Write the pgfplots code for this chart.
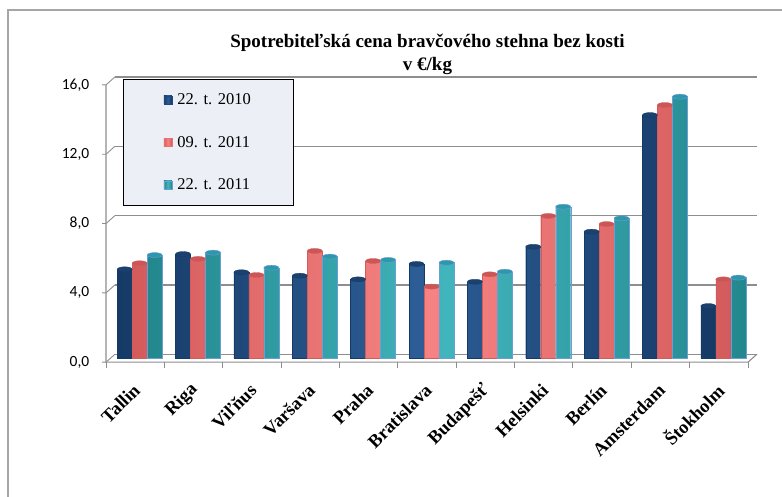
\documentclass[border=0pt]{standalone}
\usepackage{fontspec}
\setmainfont{Liberation Serif}
\newfontfamily\calibri{Carlito}
\usepackage{pgfplots}
\usepackage{pgfplotstable}
\pgfplotsset{compat=1.18}
\usetikzlibrary{shapes.geometric}
\definecolor{navyD}{HTML}{163A66}
\definecolor{navyL}{HTML}{2C5D96}
\definecolor{navyT}{HTML}{1B416F}
\definecolor{navyM}{HTML}{1F497D}
\definecolor{redD}{HTML}{D45B5B}
\definecolor{redL}{HTML}{F68383}
\definecolor{redT}{HTML}{CC5656}
\definecolor{redM}{HTML}{E8706F}
\definecolor{tealD}{HTML}{23878E}
\definecolor{tealL}{HTML}{40B5BB}
\definecolor{tealT}{HTML}{2F97AC}
\definecolor{tealO}{HTML}{6A9ED6}
\definecolor{tealM}{HTML}{31A0A8}
\definecolor{gridc}{HTML}{8E8E8E}
\definecolor{legfill}{HTML}{ECF0F6}
\definecolor{framec}{HTML}{A6A6A6}

\pgfplotstableread{
idx v2010 v2011a v2011b
0 5.13 5.48 5.95
1 6.01 5.73 6.09
2 4.96 4.80 5.22
3 4.76 6.19 5.86
4 4.55 5.61 5.67
5 5.44 4.13 5.51
6 4.41 4.84 4.99
7 6.43 8.21 8.74
8 7.30 7.74 8.07
9 14.03 14.61 15.09
10 3.01 4.55 4.65
}\datatable

\begin{document}
\begin{tikzpicture}
\draw[framec, line width=1.5pt] (8pt,0pt) -- (8pt,487pt) -- (782pt,487pt);
\begin{axis}[
  at={(110.5pt,138.8pt)}, anchor=south west,
  scale only axis, width=642pt, height=277.3pt,
  xmin=-0.5, xmax=10.5, ymin=0, ymax=16,
  axis line style={draw=none},
  major tick length=0pt, minor tick length=0pt,
  xtick={0,...,10},
  xticklabels={Tallin,Riga,Viľňus,Varšava,Praha,Bratislava,Budapešť,Helsinki,Berlín,Amsterdam,Štokholm},
  xticklabel style={xshift=-3pt, yshift=-29pt, rotate=45, anchor=east, inner sep=0pt, font=\fontsize{18.5}{20}\selectfont\bfseries},
  ytick={0,4,8,12,16},
  yticklabels={{0,0},{4,0},{8,0},{12,0},{16,0}},
  yticklabel style={xshift=-21pt, yshift=-4pt, anchor=east, inner sep=0pt, font=\fontsize{15.5}{17}\selectfont\calibri},
  ybar=0pt, bar width=15pt,
  clip=false,
  title={Spotrebiteľská cena bravčového stehna bez kosti\\v €/kg},
  title style={at={(0.5,1)}, anchor=south, align=center, inner sep=0pt, xshift=-4pt, yshift=0pt, font=\fontsize{19}{22.5}\selectfont\bfseries},
  legend style={at={(0.019,1.006)}, anchor=north west, fill=legfill, draw=black, line width=0.8pt,
    font=\fontsize{16.5}{18}\selectfont, inner xsep=40.5pt, inner ysep=12pt, row sep=26pt},
  legend cell align=left,
]
% back wall grid lines and 3D hooks
\pgfplotsinvokeforeach{0,4,8,12,16}{
  \draw[gridc, line width=1.3pt] ([xshift=4.5pt,yshift=4pt]axis cs:-0.5,#1) -- ([xshift=4.5pt,yshift=4pt]axis cs:10.5,#1);
  \draw[gridc, line width=0.9pt] ([xshift=-8.5pt,yshift=-4pt]axis cs:-0.5,#1) -- ([xshift=-4.5pt,yshift=-4pt]axis cs:-0.5,#1) -- ([xshift=4.5pt,yshift=4pt]axis cs:-0.5,#1);
}
% front axis lines
\draw[gridc, line width=1.1pt] ([xshift=-4.5pt,yshift=-4pt]axis cs:-0.5,16) -- ([xshift=-4.5pt,yshift=-4pt]axis cs:-0.5,0) -- ([xshift=-4.5pt,yshift=-4pt]axis cs:10.5,0) -- ([xshift=4.5pt,yshift=4pt]axis cs:10.5,0);
\pgfplotsinvokeforeach{-0.5,0.5,1.5,2.5,3.5,4.5,5.5,6.5,7.5,8.5,9.5,10.5}{
  \draw[gridc, line width=0.9pt] ([xshift=-4.5pt,yshift=-4pt]axis cs:#1,0) -- ([xshift=-4.5pt,yshift=-9.5pt]axis cs:#1,0);
}
\addplot[draw=navyD, line width=0.3pt, left color=navyD, right color=navyD, middle color=navyL,
  nodes near coords={}, every node near coord/.append style={ellipse, fill=navyT, draw=navyD, line width=0.3pt, minimum width=15pt, minimum height=5pt, inner sep=0pt, anchor=center},
  legend image code/.code={\fill[navyM] (0pt,-4pt) rectangle (8pt,4pt); \path (11.5pt,0pt);}]
  table[x=idx, y=v2010] {\datatable};
\addplot[draw=redD, line width=0.3pt, left color=redD, right color=redD, middle color=redL,
  nodes near coords={}, every node near coord/.append style={ellipse, fill=redT, draw=redD, line width=0.3pt, minimum width=15pt, minimum height=5pt, inner sep=0pt, anchor=center},
  legend image code/.code={\fill[redM] (0pt,-4pt) rectangle (8pt,4pt); \path (11.5pt,0pt);}]
  table[x=idx, y=v2011a] {\datatable};
\addplot[draw=tealO, line width=0.4pt, left color=tealD, right color=tealD, middle color=tealL,
  nodes near coords={}, every node near coord/.append style={ellipse, fill=tealT, draw=tealO, line width=0.4pt, minimum width=15pt, minimum height=5pt, inner sep=0pt, anchor=center},
  legend image code/.code={\fill[tealM, draw=tealO, line width=0.4pt] (0pt,-4pt) rectangle (8pt,4pt); \path (11.5pt,0pt);}]
  table[x=idx, y=v2011b] {\datatable};
\legend{22. t. 2010, 09. t. 2011, 22. t. 2011}
\end{axis}
\pgfresetboundingbox
\path[use as bounding box] (0pt,0pt) rectangle (782pt,497pt);
\end{tikzpicture}
\end{document}
